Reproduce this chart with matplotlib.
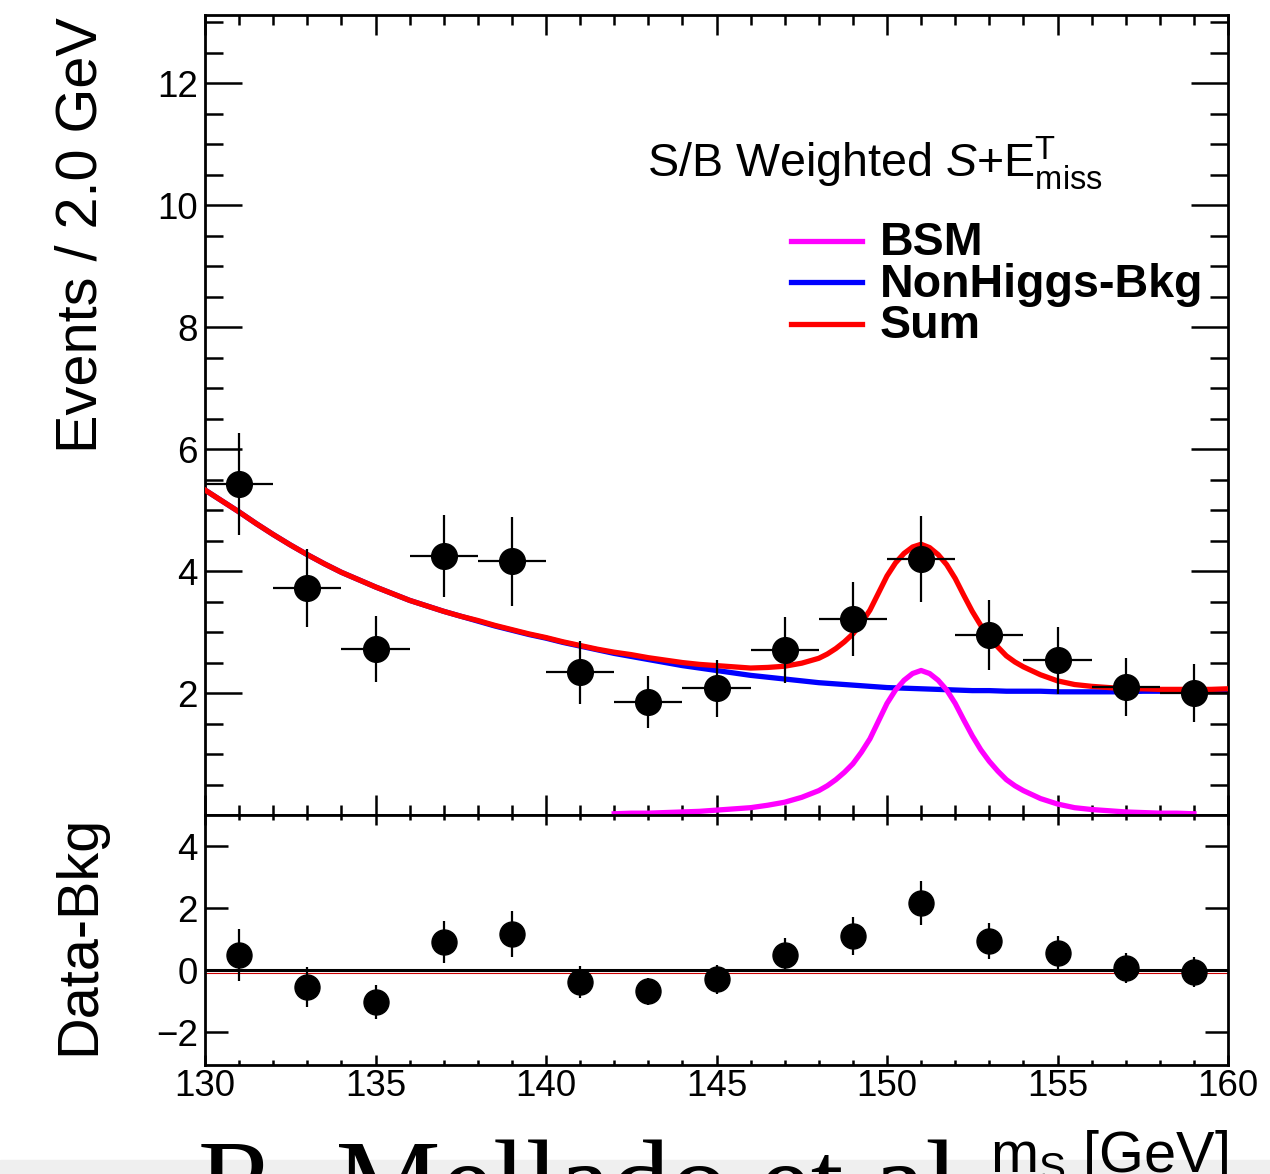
import numpy as np
import matplotlib.pyplot as plt
from matplotlib.lines import Line2D
from matplotlib.patches import Rectangle
import matplotlib.transforms as mtransforms

plt.rcParams['font.family'] = ['Liberation Sans', 'DejaVu Sans']
plt.rcParams['mathtext.fontset'] = 'custom'
plt.rcParams['mathtext.rm'] = 'Liberation Sans'
plt.rcParams['mathtext.it'] = 'Liberation Sans:italic'
plt.rcParams['mathtext.bf'] = 'Liberation Sans:bold'

# ---- data ----
bin_width = 2.0
mass_centres = [131, 133, 135, 137, 139, 141, 143, 145, 147, 149, 151, 153, 155, 157, 159]
events = [5.43, 3.72, 2.72, 4.25, 4.16, 2.34, 1.85, 2.08, 2.70, 3.21, 4.20, 2.95, 2.54, 2.10, 2.00]
events_err = [0.84, 0.64, 0.54, 0.67, 0.73, 0.52, 0.43, 0.47, 0.54, 0.61, 0.71, 0.58, 0.55, 0.48, 0.48]
residual = [0.48, -0.55, -1.03, 0.90, 1.16, -0.39, -0.68, -0.29, 0.48, 1.10, 2.16, 0.94, 0.55, 0.06, -0.06]

# fitted curves: every 0.5 GeV, every 0.25 GeV across the peak (148-154)
curve_mass = np.concatenate([np.arange(130.0, 147.6, 0.5),
                             np.arange(148.0, 154.01, 0.25),
                             np.arange(154.5, 160.01, 0.5)])
bkg_curve = [5.33, 5.15, 4.97, 4.78, 4.60, 4.43, 4.27, 4.12, 3.98, 3.86,
             3.74, 3.63, 3.52, 3.43, 3.34, 3.26, 3.18, 3.10, 3.03, 2.96,
             2.90, 2.83, 2.77, 2.71, 2.65, 2.60, 2.55, 2.50, 2.45, 2.41,
             2.37, 2.33, 2.29, 2.26, 2.23, 2.20,
             2.17, 2.16, 2.15, 2.14, 2.13, 2.12, 2.11, 2.10, 2.09, 2.085,
             2.08, 2.075, 2.07, 2.065, 2.06, 2.055, 2.05, 2.045, 2.04, 2.04,
             2.04, 2.035, 2.03, 2.03, 2.03,
             2.03, 2.02, 2.02, 2.02, 2.02, 2.02, 2.03, 2.03, 2.03, 2.04, 2.04, 2.05]
sig_curve = [0.00, 0.00, 0.00, 0.00, 0.00, 0.00, 0.00, 0.00, 0.00, 0.00,
             0.00, 0.00, 0.00, 0.00, 0.00, 0.00, 0.01, 0.01, 0.01, 0.01,
             0.01, 0.01, 0.01, 0.01, 0.02, 0.03, 0.03, 0.04, 0.05, 0.06,
             0.08, 0.10, 0.12, 0.16, 0.21, 0.29,
             0.40, 0.48, 0.58, 0.70, 0.84, 1.03, 1.25, 1.54, 1.83, 2.05,
             2.21, 2.32, 2.37, 2.32, 2.21, 2.05, 1.83, 1.56, 1.30, 1.07,
             0.88, 0.72, 0.58, 0.48, 0.40,
             0.27, 0.18, 0.12, 0.09, 0.07, 0.05, 0.04, 0.03, 0.03, 0.02, 0.02, 0.02]
sig_range = (142, 159)

bkg_curve = np.array(bkg_curve)
sig_curve = np.array(sig_curve)
sum_curve = bkg_curve + sig_curve

W, H = 1270, 1174
fig = plt.figure(figsize=(W / 100, H / 100), dpi=100)
ax = fig.add_axes([205 / W, 1 - 815 / H, 1023 / W, 800 / H])
axr = fig.add_axes([205 / W, 1 - 1065 / H, 1023 / W, 250 / H])

# ---- main panel ----
ax.plot(curve_mass, bkg_curve, color='#0000ff', lw=3.8, zorder=2)
ax.plot(curve_mass, sum_curve, color='#ff0000', lw=3.8, zorder=3)
m = (curve_mass >= sig_range[0]) & (curve_mass <= sig_range[1])
ax.plot(curve_mass[m], sig_curve[m], color='#ff00ff', lw=3.8, zorder=3, clip_on=False)
ax.errorbar(mass_centres, events, xerr=bin_width / 2, yerr=events_err, fmt='o',
            color='black', ms=18.5, elinewidth=1.6, capsize=0, zorder=5)

ax.set_xlim(130, 160)
ax.set_ylim(0, 13.12)
ax.set_yticks([2, 4, 6, 8, 10, 12])
ax.set_yticks(np.arange(0.5, 13.1, 0.5), minor=True)
ax.set_xticks(np.arange(130, 161, 5))
ax.set_xticks(np.arange(130, 161, 1), minor=True)
ax.tick_params(axis='x', which='both', direction='in', top=True, bottom=True,
               labelbottom=False, width=1.8)
ax.tick_params(axis='x', which='major', length=14.4)
ax.tick_params(axis='x', which='minor', length=7.2)
ax.tick_params(axis='y', which='both', direction='in', left=True, right=True, width=1.8,
               labelsize=26.5, pad=5)
ax.tick_params(axis='y', which='major', length=26.6)
ax.tick_params(axis='y', which='minor', length=13)
for s in ax.spines.values():
    s.set_linewidth(2.0)
ax.set_ylabel('Events / 2.0 GeV', fontsize=41.5, loc='top')
ax.yaxis.set_label_coords(-0.094, 0.997, transform=ax.transAxes)

ax.text((647 - 205) / 1023, (815 - 177) / 800,
        r'S/B Weighted $\mathit{S}$+E$^{\mathrm{T}}_{\mathrm{miss}}$',
        transform=ax.transAxes, fontsize=33.6, va='baseline', ha='left')

handles = [Line2D([], [], color='#ff00ff', lw=3.8),
           Line2D([], [], color='#0000ff', lw=3.8),
           Line2D([], [], color='#ff0000', lw=3.8)]
leg = ax.legend(handles, ['BSM', 'NonHiggs-Bkg', 'Sum'], loc='upper left',
                bbox_to_anchor=((791 - 205) / 1023, (815 - 221) / 800),
                frameon=False, prop={'size': 33.6, 'weight': 'bold'},
                handlelength=1.52, handletextpad=0.38, labelspacing=-0.05,
                handleheight=0.4, borderpad=0, borderaxespad=0)

# ---- ratio panel ----
zero_tr = mtransforms.blended_transform_factory(axr.transAxes, axr.transData)
red_shift = mtransforms.ScaledTranslation(0, -2.5 / 100, fig.dpi_scale_trans)
axr.plot([0, 1], [0, 0], color='#cc0000', lw=0.8, zorder=2, transform=zero_tr + red_shift)
axr.axhline(0, color='black', lw=2.2, zorder=3)
axr.errorbar(mass_centres, residual, yerr=events_err, fmt='o', color='black',
             ms=18.0, elinewidth=1.6, capsize=0, zorder=5)
axr.set_xlim(130, 160)
axr.set_ylim(-3.06, 5.0)
axr.set_yticks([-2, 0, 2, 4])
axr.set_xticks(np.arange(130, 161, 5))
axr.set_xticks(np.arange(130, 161, 1), minor=True)
axr.tick_params(axis='x', which='both', direction='in', top=True, bottom=True, width=1.8,
                labelsize=26.5, pad=3)
axr.tick_params(axis='x', which='major', length=7.2)
axr.tick_params(axis='x', which='minor', length=3.6)
axr.tick_params(axis='y', which='major', direction='in', left=True, right=True, width=1.8,
                length=16.5, labelsize=26.5, pad=5)
for s in axr.spines.values():
    s.set_linewidth(2.0)
axr.set_ylabel('Data-Bkg', fontsize=41.5, loc='top')
axr.yaxis.set_label_coords(-0.097, 1.0, transform=axr.transAxes)

# x-axis title, bottom right
fig.text(1228 / W, 2 / H, r'm$_{\mathrm{S}}$ [GeV]', fontsize=41.5, ha='right', va='baseline')

# author text cut by the bottom edge
fig.text(198 / W, 1 - 1140 / H, 'R. Mellado et al.', fontsize=85, family='Liberation Serif',
         ha='left', va='top')

fig.patches.append(Rectangle((0, 0), 1, 14 / H, transform=fig.transFigure,
                             color='#efefef', zorder=-1))

fig.savefig('out.png', dpi=100)
